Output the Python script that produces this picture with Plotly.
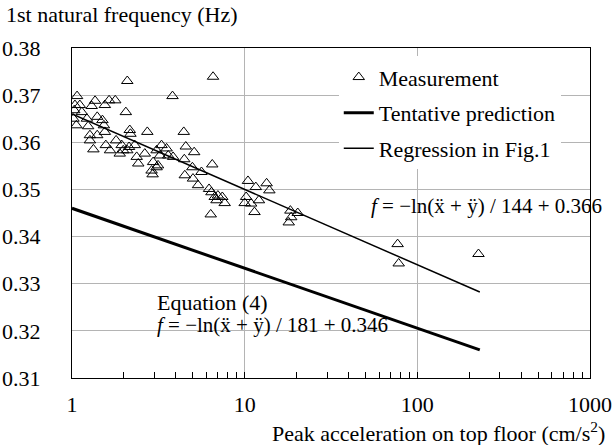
import math
import plotly.graph_objects as go

# Measured peak acceleration (cm/s^2) and first natural frequency (Hz)
accel = [
    2.09, 1.07, 1.36, 1.64, 1.78, 3.82, 1.04, 1.11, 1.30, 1.55,
    1.03, 1.14, 2.05, 1.22, 1.40, 1.50, 1.06, 1.24, 1.53, 2.16,
    2.73, 4.44, 1.27, 1.40, 2.18, 1.27, 1.80, 1.33, 1.57, 1.94,
    2.14, 1.66, 1.98, 2.31, 3.30, 4.56, 5.10, 1.89, 2.09, 2.37,
    2.64, 3.09, 3.23, 3.53, 3.61, 3.85, 4.47, 2.42, 2.95, 3.15,
    2.89, 2.93, 3.09, 4.50, 5.02, 5.37, 6.56, 4.98, 5.62, 6.49,
    6.22, 6.42, 6.71, 7.00, 7.42, 7.66, 6.87, 6.36, 10.45, 11.6,
    13.4, 13.9, 10.2, 10.0, 10.9, 12.1, 11.4, 18.4, 20.3, 18.6,
    18.0, 76.9, 78.0, 226.0, 1.55, 1.02,
]
freq = [
    0.3730, 0.3698, 0.3688, 0.3689, 0.3689, 0.3698, 0.3679, 0.3679, 0.3677, 0.3679,
    0.3668, 0.3664, 0.3664, 0.3650, 0.3654, 0.3647, 0.3636, 0.3634, 0.3636, 0.3626,
    0.3622, 0.3622, 0.3615, 0.3615, 0.3618, 0.3604, 0.3604, 0.3585, 0.3594, 0.3594,
    0.3590, 0.3583, 0.3583, 0.3594, 0.3594, 0.3591, 0.3579, 0.3576, 0.3583, 0.3569,
    0.3576, 0.3583, 0.3572, 0.3587, 0.3572, 0.3569, 0.3564, 0.3555, 0.3558, 0.3551,
    0.3540, 0.3532, 0.3547, 0.3530, 0.3523, 0.3509, 0.3739, 0.3547, 0.3537, 0.3553,
    0.3501, 0.3494, 0.3484, 0.3487, 0.3484, 0.3471, 0.3477, 0.3447, 0.3518, 0.3505,
    0.3513, 0.3498, 0.3484, 0.3471, 0.3470, 0.3477, 0.3452, 0.3455, 0.3450, 0.3441,
    0.3430, 0.3384, 0.3343, 0.3363, 0.3622, 0.3650,
]

# Line models f = -ln(a)/divisor + intercept, drawn over the acceleration span
line_span = [1.0, 230.0]
regression_coef = [144, 0.366]
tentative_coef = [181, 0.346]

x_ticks = [1, 10, 100, 1000]
x_tick_text = ["1", "10", "100", "1000"]
y_ticks = [0.31, 0.32, 0.33, 0.34, 0.35, 0.36, 0.37, 0.38]


def model(coef, xs):
    return [-math.log(v) / coef[0] + coef[1] for v in xs]


FONT = "Liberation Serif"

fig = go.Figure()
fig.add_trace(go.Scatter(
    x=accel, y=freq, mode="markers", name="Measurement",
    legendgroup="a",
    marker=dict(symbol="triangle-up-open", size=10, color="black",
                line=dict(width=1, color="black")),
))
fig.add_trace(go.Scatter(
    x=line_span, y=model(tentative_coef, line_span), mode="lines",
    name="Tentative prediction", legendgroup="b",
    line=dict(color="black", width=3),
))
fig.add_trace(go.Scatter(
    x=line_span, y=model(regression_coef, line_span), mode="lines",
    name="Regression in Fig.1", legendgroup="c",
    line=dict(color="black", width=1.5),
))

fig.update_layout(
    width=612, height=445,
    margin=dict(l=72, r=22, t=48, b=67, autoexpand=False),
    paper_bgcolor="white", plot_bgcolor="white",
    font=dict(family=FONT, size=22, color="black"),
    showlegend=True,
    legend=dict(
        x=0.515, y=0.975, xanchor="left", yanchor="top",
        bgcolor="white", borderwidth=0,
        traceorder="grouped", tracegroupgap=4,
        font=dict(family=FONT, size=22, color="black"),
    ),
    xaxis=dict(
        type="log", range=[0, 3], automargin=False,
        tickvals=x_ticks, ticktext=x_tick_text,
        showgrid=True, gridcolor="#b4b4b4", gridwidth=1,
        showline=True, linecolor="black", linewidth=1, mirror=True,
        ticks="inside", ticklen=6, tickcolor="black",
        minor=dict(ticks="inside", ticklen=6, tickcolor="black",
                   dtick="D1", showgrid=False),
        zeroline=False,
        ticklabelstandoff=7,
        tickfont=dict(family=FONT, size=22),
    ),
    yaxis=dict(
        range=[0.31, 0.38], tickvals=y_ticks, tickformat=".2f",
        automargin=False,
        showgrid=True, gridcolor="#b4b4b4", gridwidth=1,
        showline=True, linecolor="black", linewidth=1, mirror=True,
        ticks="", zeroline=False,
        ticklabelstandoff=26,
        tickfont=dict(family=FONT, size=22),
    ),
)

annotations = [
    dict(text="1st natural frequency (Hz)", xref="paper", yref="paper",
         x=-0.131, y=1.10, xanchor="left", yanchor="middle",
         showarrow=False, font=dict(family=FONT, size=22)),
    dict(text="Peak acceleration on top floor (cm/s<sup>2</sup>)",
         xref="paper", yref="paper", x=1.033, y=-0.165,
         xanchor="right", yanchor="middle",
         showarrow=False, font=dict(family=FONT, size=22)),
    dict(text="<i>f</i> = \u2212ln(\u1e8d + \u00ff) / 144 + 0.366",
         xref="x", yref="y", x=1.72, y=0.3464,
         xanchor="left", yanchor="middle",
         showarrow=False, font=dict(family=FONT, size=21)),
    dict(text="Equation (4)", xref="x", yref="y", x=0.48, y=0.3261,
         xanchor="left", yanchor="middle",
         showarrow=False, font=dict(family=FONT, size=22)),
    dict(text="<i>f</i> = \u2212ln(\u1e8d + \u00ff) / 181 + 0.346",
         xref="x", yref="y", x=0.48, y=0.3212,
         xanchor="left", yanchor="middle",
         showarrow=False, font=dict(family=FONT, size=21)),
]
fig.update_layout(annotations=annotations)

fig.write_html("out.html")
